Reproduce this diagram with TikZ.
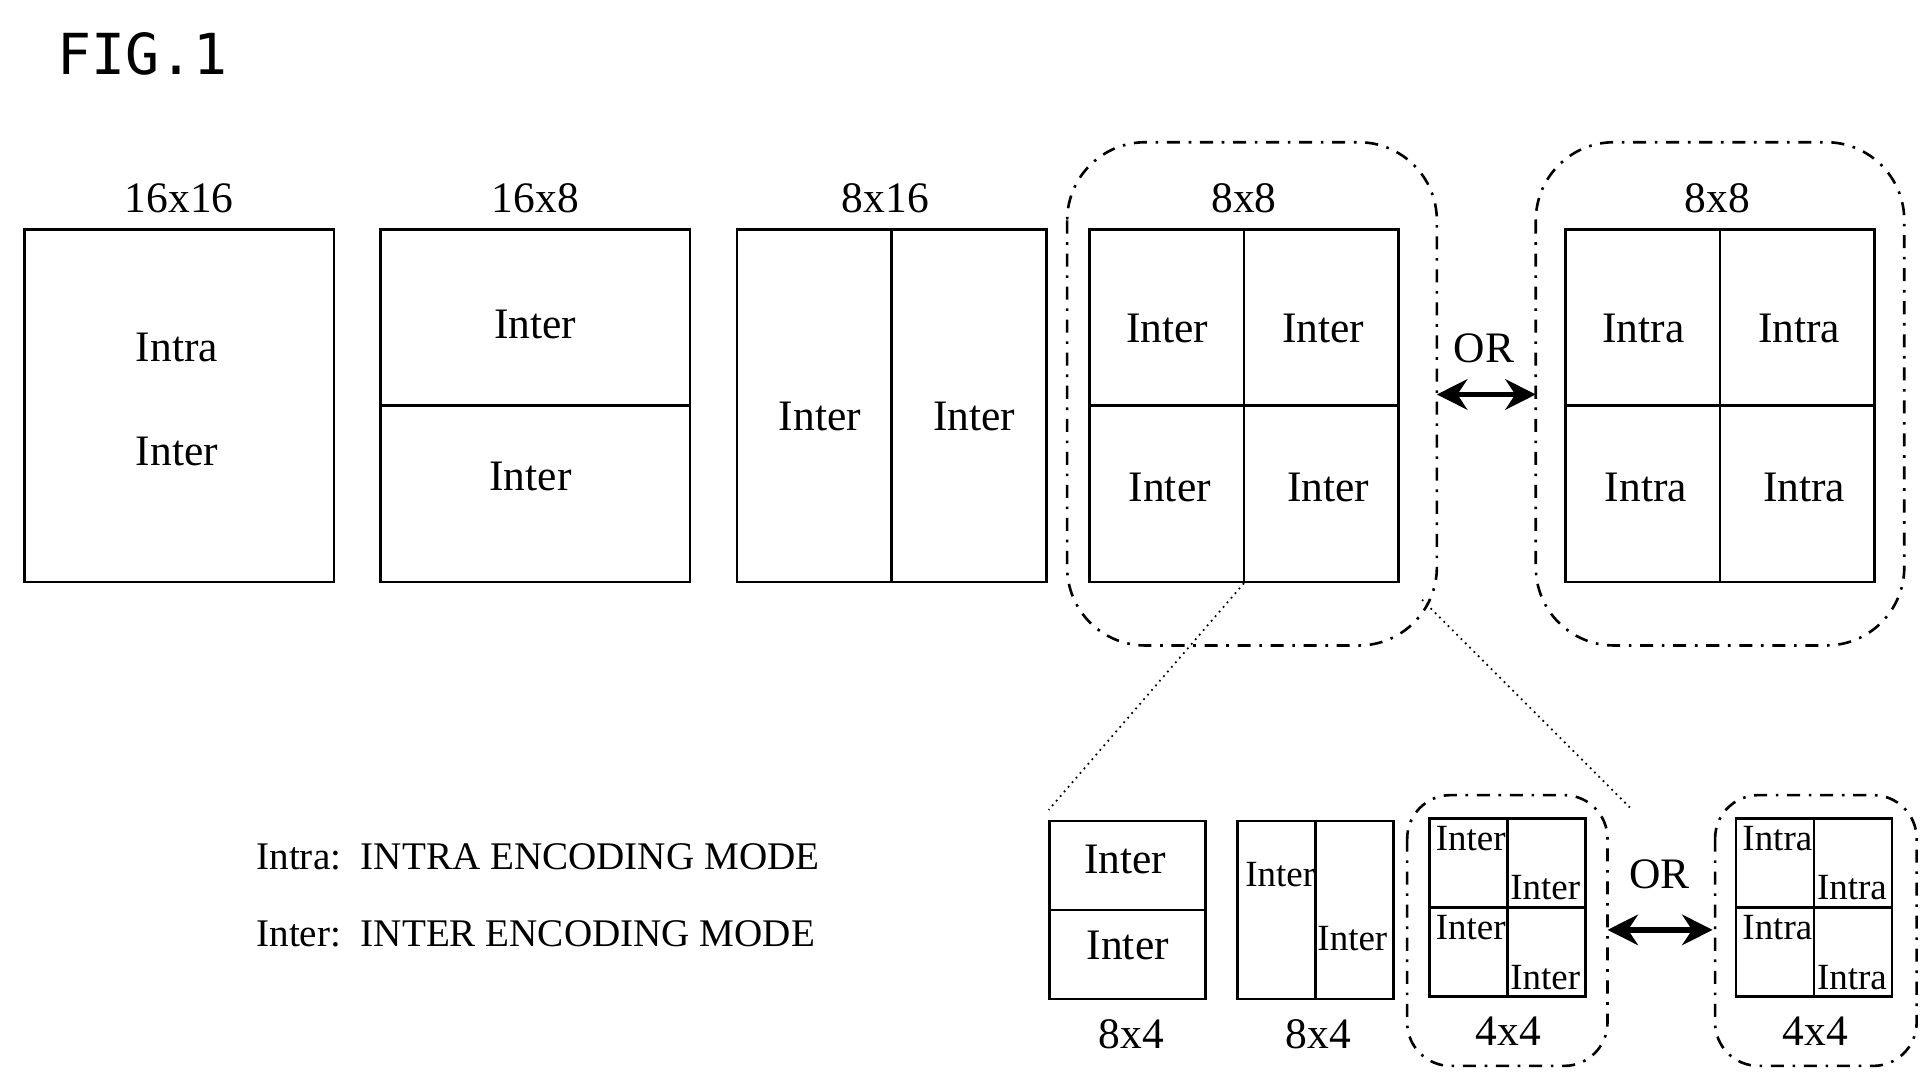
\documentclass[tikz,border=0pt]{standalone}
\usepackage{fontspec}
\setmainfont{Liberation Serif}
\newfontfamily\figfont{DejaVu Sans Mono}
\usetikzlibrary{positioning, calc, arrows.meta}

\begin{document}
\begin{tikzpicture}[
    x=0.01cm, y=-0.01cm,
    font=\fontsize{10}{12}\selectfont,
    blk/.style={rectangle, draw, semithick, minimum width=2.5cm, minimum height=2.85cm, inner sep=0pt},
    sblk/.style={rectangle, draw, semithick, minimum width=1.26cm, minimum height=1.44cm, inner sep=0pt},
    small/.style={inner sep=1pt, font=\fontsize{8.5}{10}\selectfont},
    grp/.style={draw, semithick, dash dot, rounded corners=18pt},
    sgrp/.style={draw, semithick, dash dot, rounded corners=10pt},
    zoom/.style={densely dotted, thin},
    dbl/.style={{Stealth[length=7pt,width=7pt]}-{Stealth[length=7pt,width=7pt]}, very thick}
]
\useasboundingbox (0,0) rectangle (1560,881);

\node[anchor=north west, font=\figfont\fontsize{13}{16}\selectfont] (fig) at (34,14) {FIG.1};

% Top row
\node[blk] (b1) at (145,328) {};
\node[blk] (b2) at (433,328) {};
\node[blk] (b3) at (721,328) {};
\node[blk] (b4) at (1006,328) {};
\node[blk] (b5) at (1391,328) {};

\node (t1) at (145,160) {16x16};
\node (t2) at (433,160) {16x8};
\node (t3) at (716,160) {8x16};
\node (t4) at (1006,160) {8x8};
\node (t5) at (1389,160) {8x8};

\node at (143,281) {Intra};
\node at (143,365) {Inter};

\draw[semithick] (b2.west) -- (b2.east);
\node at (433,262) {Inter};
\node at (429,385) {Inter};

\draw[semithick] (b3.north) -- (b3.south);
\node at (663,337) {Inter};
\node at (788,337) {Inter};

\foreach \b/\m in {b4/Inter, b5/Intra} {
  \draw[semithick] (\b.north) -- (\b.south);
  \draw[semithick] (\b.west) -- (\b.east);
  \node at ($(\b.center)+(-62,-62)$) {\m};
  \node at ($(\b.center)+(64,-62)$) {\m};
  \node at ($(\b.center)+(-60,66)$) {\m};
  \node at ($(\b.center)+(68,66)$) {\m};
}

\draw[grp] (863,115) rectangle (1162,522);
\draw[grp] (1242,115) rectangle (1540,522);
\coordinate (g1) at (1162,319);
\coordinate (g2) at (1242,319);
\draw[dbl] (g1) -- (g2);
\node at (1200,282) {OR};

% Zoom lines
\coordinate (z1) at (848,655);
\coordinate (z2) at (1320,655);
\draw[zoom] (b4.south) -- (z1);
\draw[zoom] (1150,485) -- (z2);

% Bottom row
\node[sblk] (s1) at (912,736) {};
\node[sblk] (s2) at (1064,736) {};
\node[sblk] (s3) at (1219,734) {};
\node[sblk] (s4) at (1467,734) {};

\draw[semithick] (s1.west) -- (s1.east);
\node at (910,695) {Inter};
\node at (912,765) {Inter};

\draw[semithick] (s2.north) -- (s2.south);
\node[small, anchor=north west] at ($(s2.north west)+(3,30)$) {Inter};
\node[small, anchor=north east] at ($(s2.north east)+(-2,82)$) {Inter};

\foreach \b/\m in {s3/Inter, s4/Intra} {
  \draw[semithick] (\b.north) -- (\b.south);
  \draw[semithick] (\b.west) -- (\b.east);
  \node[small, anchor=north west] at ($(\b.north west)+(2,3)$) {\m};
  \node[small, anchor=south east] at ($(\b.east)+(-1,-2)$) {\m};
  \node[small, anchor=north west] at ($(\b.west)+(2,2)$) {\m};
  \node[small, anchor=south east] at ($(\b.south east)+(-1,-2)$) {\m};
}

\node at (915,836) {8x4};
\node at (1066,836) {8x4};
\node at (1220,834) {4x4};
\node at (1468,834) {4x4};

\draw[sgrp] (1138,643) rectangle (1300,862);
\draw[sgrp] (1387,643) rectangle (1550,862);
\coordinate (h1) at (1300,752);
\coordinate (h2) at (1385,752);
\draw[dbl] (h1) -- (h2);
\node at (1342,707) {OR};

% Legend
\node[anchor=west, font=\fontsize{9}{11}\selectfont] (l1) at (195,693) {Intra:\ \ INTRA ENCODING MODE};
\node[anchor=west, font=\fontsize{9}{11}\selectfont] (l2) at (195,755) {Inter:\ \ INTER ENCODING MODE};
\end{tikzpicture}
\end{document}
